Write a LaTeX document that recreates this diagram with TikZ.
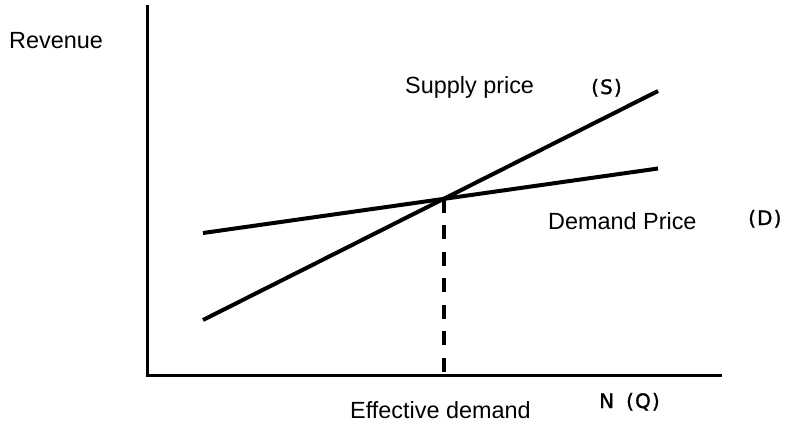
\documentclass[tikz,border=0pt]{standalone}
\usepackage{fontspec}
\setmainfont{Liberation Sans}
\newfontfamily\geofont[LetterSpace=6, WordSpace=1.6, FakeBold=1.2]{DejaVu Sans}
\begin{document}
\begin{tikzpicture}[x=1bp, y=-1bp, font=\fontsize{23.5}{26}\selectfont]
        \useasboundingbox (0,0) rectangle (791,423);
        \coordinate (top) at (147,5);
        \coordinate (O) at (147,375);
        \coordinate (right) at (722,375);
        \coordinate (s1) at (203,320); \coordinate (s2) at (658,91);
        \coordinate (d1) at (203,233); \coordinate (d2) at (658,168.5);
        \coordinate (E) at (intersection of s1--s2 and d1--d2);
        \coordinate (Ex) at (E |- O);
        \draw[line width=3bp] (top)--(O)--(right);
        \draw[line width=4bp] (s1)--(s2);
        \draw[line width=4bp] (d1)--(d2);
        \draw[line width=4bp, dash pattern=on 14bp off 12.5bp] (E)--(Ex);
        \node[anchor=base west, inner sep=0] (rev) at (9,48) {Revenue};
        \node[anchor=base west, inner sep=0] (sp) at (405,93) {Supply price};
        \node[anchor=base west, inner sep=0] (dp) at (548,229) {Demand Price};
        \node[anchor=base west, inner sep=0] (ed) at (350,418) {Effective demand};
        \node[anchor=base west, inner sep=0, font=\geofont\fontsize{20}{22}\selectfont] (S) at (591,94) {(S)};
        \node[anchor=base west, inner sep=0, font=\geofont\fontsize{20}{22}\selectfont] (D) at (748,225) {(D)};
        \node[anchor=base west, inner sep=0, font=\geofont\fontsize{20}{22}\selectfont] (NQ) at (599,408) {N (Q)};
    \end{tikzpicture}
\end{document}
